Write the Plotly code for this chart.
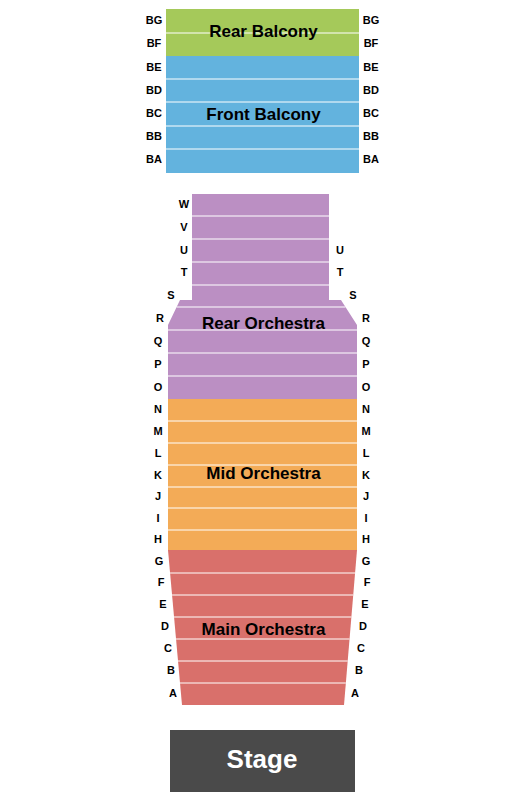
import numpy as np
import plotly.graph_objects as go

# ---- section outlines (edge profiles: y, left x, right x) ----
sec_names = ["Rear Balcony", "Front Balcony", "Rear Orchestra", "Mid Orchestra", "Main Orchestra"]
sec_colors = ["#a5c95a", "#63b3de", "#bb8fc3", "#f3ab57", "#d9706b"]
sec_y = [[9, 56], [56, 173], [194, 300, 300, 325, 399], [399, 550], [550, 705]]
sec_left = [[166, 166], [166, 166], [192, 192, 180, 168, 168], [168, 168], [168, 182]]
sec_right = [[359, 359], [359, 359], [329, 329, 341, 357, 357], [357, 357], [357, 344]]
sec_title_y = [33, 116, 325, 475, 631]

# ---- rows: label, y, left label x, right label x (None = no label) ----
row_labels = ["BG", "BF", "BE", "BD", "BC", "BB", "BA",
              "W", "V", "U", "T", "S", "R", "Q", "P", "O",
              "N", "M", "L", "K", "J", "I", "H",
              "G", "F", "E", "D", "C", "B", "A"]
row_y = [21, 44, 68, 91, 114, 137, 160,
         205, 228, 251, 273, 296, 319, 342, 365, 388,
         410, 432, 454, 476, 497, 519, 540,
         562, 583, 605, 627, 649, 671, 694]
row_lx = [154, 154, 154, 154, 154, 154, 154,
          184, 184, 184, 184, 171, 160, 158, 158, 158,
          158, 158, 158, 158, 158, 158, 158,
          159, 161, 163, 165, 168, 171, 173]
row_rx = [371, 371, 371, 371, 371, 371, 371,
          None, None, 340, 340, 353, 366, 366, 366, 366,
          366, 366, 366, 366, 366, 366, 366,
          366, 367, 365, 363, 361, 359, 355]

# divider positions between rows
dividers = [[33], [79, 102, 126, 149], [216, 239, 262, 285, 307, 330, 353, 376],
            [421, 443, 465, 487, 508, 530], [573, 595, 617, 639, 661, 683]]

stage_x = [170, 355, 355, 170]
stage_y = [730, 730, 792, 792]

fig = go.Figure()

for i, name in enumerate(sec_names):
    ys, lx, rx = sec_y[i], sec_left[i], sec_right[i]
    fig.add_trace(go.Scatter(x=lx + rx[::-1], y=ys + ys[::-1], fill="toself",
                             fillcolor=sec_colors[i], mode="lines", line=dict(width=0),
                             hoverinfo="skip"))
    # white row dividers
    dx, dy = [], []
    for d in dividers[i]:
        l = np.interp(d, ys, lx)
        r = np.interp(d, ys, rx)
        dx += [l, r, None]
        dy += [d, d, None]
    fig.add_trace(go.Scatter(x=dx, y=dy, mode="lines", line=dict(color="white", width=1),
                             hoverinfo="skip"))
    cx = (min(lx) + max(rx)) / 2
    fig.add_trace(go.Scatter(x=[cx + 1], y=[sec_title_y[i]], mode="text", text=[f"<b>{name}</b>"],
                             textfont=dict(size=17, color="black", family="Liberation Sans")))

fig.add_trace(go.Scatter(x=row_lx, y=row_y, mode="text", text=[f"<b>{t}</b>" for t in row_labels],
                         textfont=dict(size=11, color="black", family="Liberation Sans")))
rx_pts = [(x, y, t) for x, y, t in zip(row_rx, row_y, row_labels) if x is not None]
fig.add_trace(go.Scatter(x=[p[0] for p in rx_pts], y=[p[1] for p in rx_pts], mode="text",
                         text=[f"<b>{p[2]}</b>" for p in rx_pts],
                         textfont=dict(size=11, color="black", family="Liberation Sans")))

fig.add_trace(go.Scatter(x=stage_x, y=stage_y, fill="toself", fillcolor="#4a4a4a",
                         mode="lines", line=dict(width=0), hoverinfo="skip"))
fig.add_trace(go.Scatter(x=[262], y=[761], mode="text", text=["<b>Stage</b>"],
                         textfont=dict(size=26, color="white", family="Liberation Sans")))

# page body adds an 8px margin, so the axis window is offset by the same amount
fig.update_layout(width=525, height=800, margin=dict(l=0, r=0, t=0, b=0),
                  showlegend=False, plot_bgcolor="white", paper_bgcolor="white")
fig.update_xaxes(range=[8, 533], visible=False)
fig.update_yaxes(range=[808, 8], visible=False)

fig.write_html("out.html")
